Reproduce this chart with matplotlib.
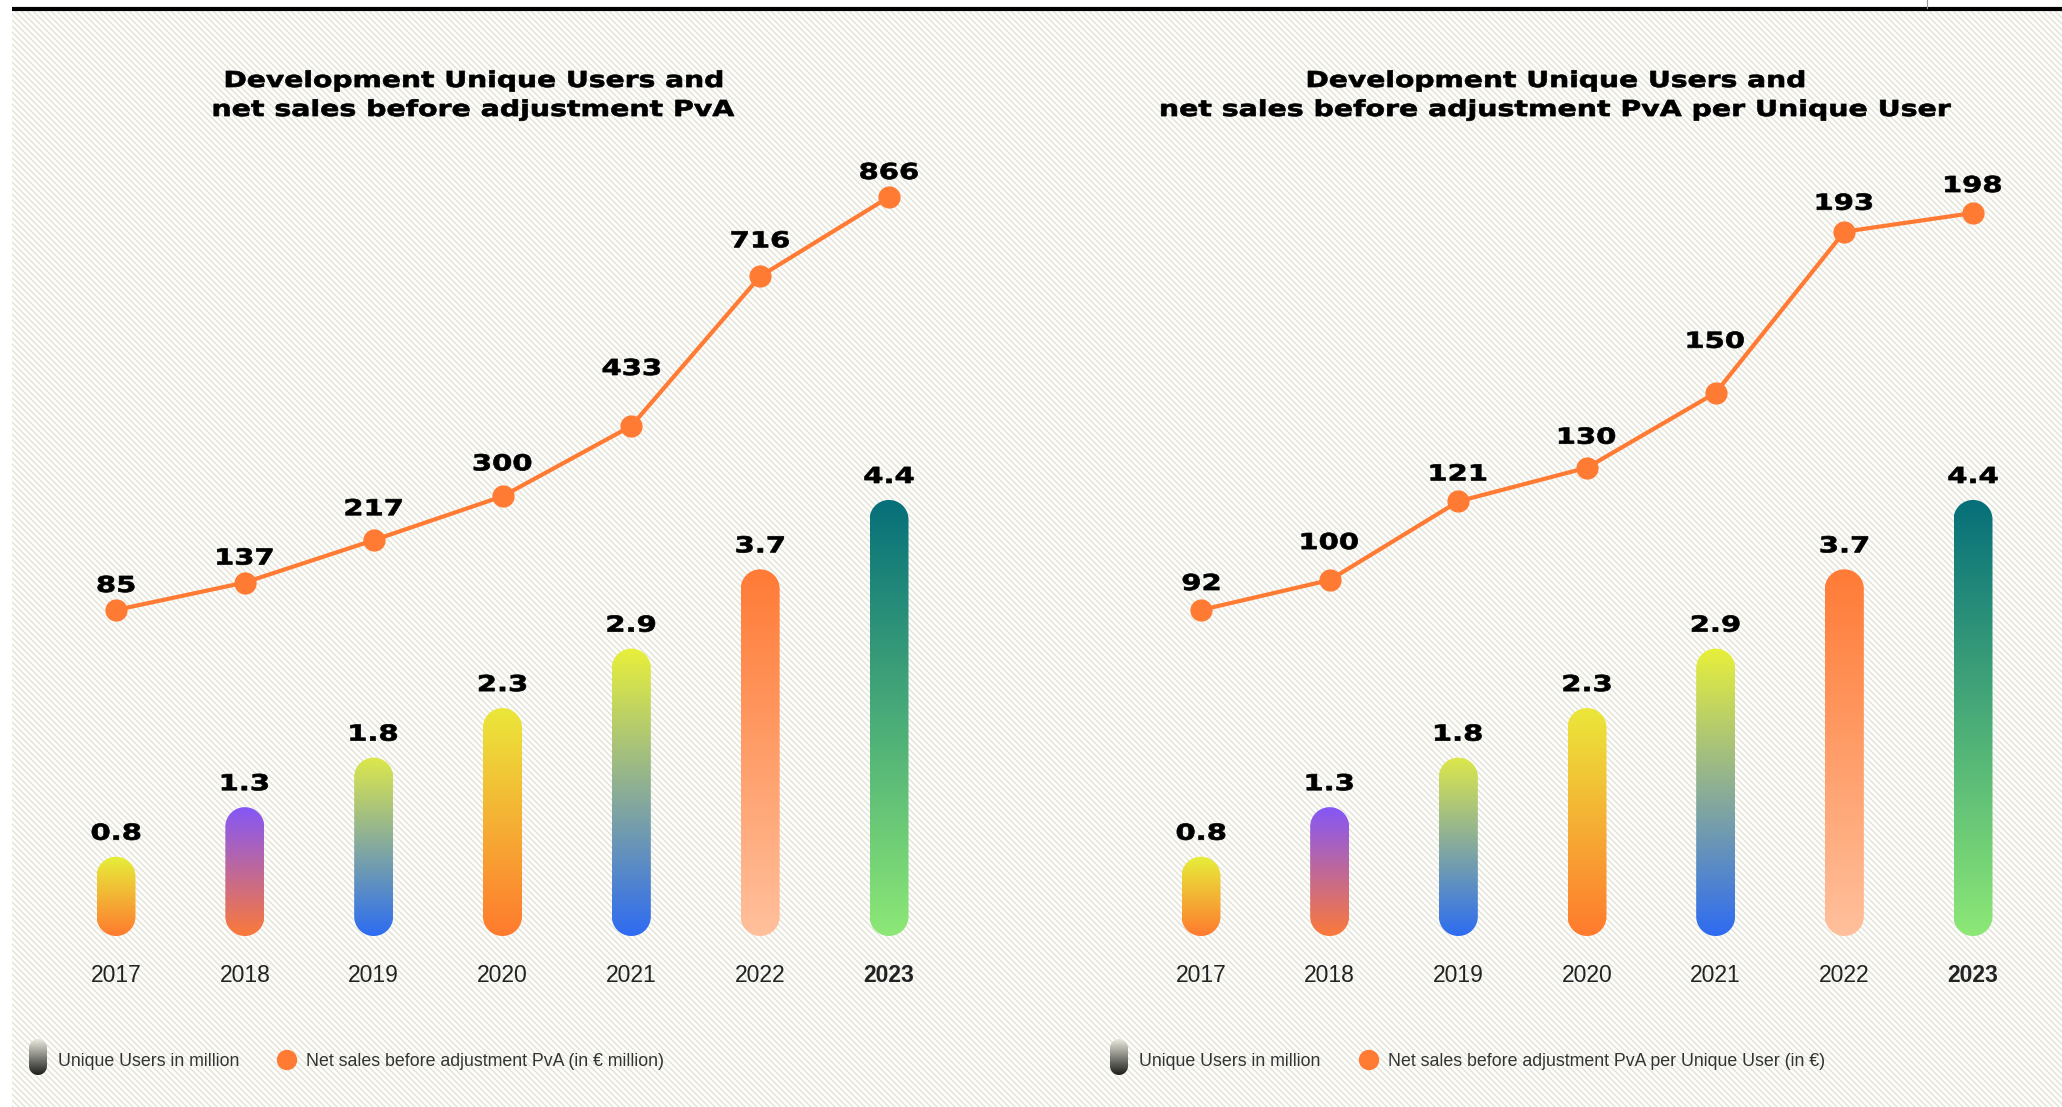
import numpy as np
import matplotlib.pyplot as plt
from matplotlib.colors import LinearSegmentedColormap
from matplotlib.patches import Polygon, Rectangle, Circle, PathPatch
from matplotlib.collections import LineCollection
from matplotlib.textpath import TextPath
from matplotlib.font_manager import FontProperties
from matplotlib.transforms import Affine2D

# data
years = ['2017', '2018', '2019', '2020', '2021', '2022', '2023']
users = [0.8, 1.3, 1.8, 2.3, 2.9, 3.7, 4.4]
user_labels = ['0.8', '1.3', '1.8', '2.3', '2.9', '3.7', '4.4']
net_sales = [85, 137, 217, 300, 433, 716, 866]
sales_per_user = [92, 100, 121, 130, 150, 193, 198]

titles = [['Development Unique Users and', 'net sales before adjustment PvA'],
          ['Development Unique Users and', 'net sales before adjustment PvA per Unique User']]
legend_users = 'Unique Users in million'
legend_sales = ['Net sales before adjustment PvA (in € million)',
                'Net sales before adjustment PvA per Unique User (in €)']

# gradient colours of the bars, top -> bottom
bar_top = ['#e6ef3a', '#8457f7', '#dde84a', '#ebe73a', '#e8f03a', '#ff7b36', '#066f7a']
bar_bottom = ['#ff7a2f', '#fb7a3a', '#2c6cf2', '#ff7a2e', '#2e6bf2', '#ffc09c', '#8de876']
line_color = '#ff7b33'

# how far (px) each line label sits above its point
lift_left = [26, 26, 33, 34, 59, 37, 26]
lift_right = [28, 39, 29, 32, 53, 30, 29]

W, H = 2062, 1107
fig = plt.figure(figsize=(W / 100, H / 100), dpi=100)
fig.patch.set_facecolor('white')

# background with fine diagonal stripes, pixel coordinates (y down)
bg = fig.add_axes([0, 0, 1, 1])
bg.set_xlim(0, W)
bg.set_ylim(H, 0)
bg.axis('off')
area = Rectangle((12, 11), W - 12, H - 11, facecolor='white', edgecolor='none')
bg.add_patch(area)
segs = [[(x0, 11), (x0 + H, 11 + H)] for x0 in np.arange(12 - H, W, 6.0)]
stripes = LineCollection(segs, colors='#e4e4d6', linewidths=1.1)
bg.add_collection(stripes)
stripes.set_clip_path(area)
bg.plot([12, W], [9, 9], color='black', lw=3, solid_capstyle='butt')
bg.plot([1927, 1927], [0, 8], color='#999999', lw=0.8)

bold_fp = FontProperties(family='DejaVu Sans', weight='bold')


def wide_text(s, cx, cy, em, sx):
    # bold text stretched horizontally, centred at pixel (cx, cy)
    tp = TextPath((0, 0), s, size=em, prop=bold_fp)
    ext = tp.get_extents()
    tr = Affine2D().scale(sx, -1).translate(cx - sx * (ext.x0 + ext.x1) / 2,
                                            cy + 0.729 * em / 2)
    bg.add_patch(PathPatch(tr.transform_path(tp), facecolor='black',
                           edgecolor='black', linewidth=0.5, zorder=5))


def to_px(ax, x, y):
    px, py = ax.transData.transform((x, y))
    return px, H - py


def gradient_pill(ax, xc, y0, y1, rx, ry, c_top, c_bottom):
    t = np.linspace(0, np.pi, 60)
    top = np.column_stack([xc + rx * np.cos(t), y1 - ry + ry * np.sin(t)])
    bot = np.column_stack([xc + rx * np.cos(t + np.pi), y0 + ry + ry * np.sin(t + np.pi)])
    if y1 < y0:  # inverted axis
        top = np.column_stack([xc + rx * np.cos(t), y1 + ry - ry * np.sin(t)])
        bot = np.column_stack([xc + rx * np.cos(t + np.pi), y0 - ry - ry * np.sin(t + np.pi)])
    poly = Polygon(np.vstack([top, bot]), closed=True, facecolor='none', edgecolor='none')
    ax.add_patch(poly)
    cmap = LinearSegmentedColormap.from_list('g', [c_top, c_bottom])
    grad = np.linspace(0, 1, 256).reshape(-1, 1)
    lo, hi = min(y0, y1), max(y0, y1)
    im = ax.imshow(grad, extent=[xc - rx, xc + rx, lo, hi], cmap=cmap,
                   aspect='auto', interpolation='bilinear', zorder=2,
                   origin='upper' if y1 > y0 else 'lower')
    im.set_clip_path(poly)


def panel(k, left, right, x_first, x_last, line_vals, y_first, y_last, lifts, title_cx):
    bottom_px, top_px = 1000, 120
    pos = [left / W, (H - bottom_px) / H, (right - left) / W, (bottom_px - top_px) / H]
    step = (x_last - x_first) / 6.0
    xlim = (-(x_first - left) / step, 6 + (right - x_last) / step)

    # bars
    ax = fig.add_axes(pos)
    ax.patch.set_alpha(0)
    ax.axis('off')
    base, ppu = 936, 99.1
    ax.set_xlim(*xlim)
    ax.set_ylim(-(bottom_px - base) / ppu, (base - top_px) / ppu)
    for i, v in enumerate(users):
        gradient_pill(ax, i, 0, v, 19.5 / step, 19.5 / ppu, bar_top[i], bar_bottom[i])
        ax.text(i, -(976 - base) / ppu, years[i], ha='center', va='center',
                family='Liberation Sans', fontsize=16.5, color='#222222',
                weight='bold' if i == 6 else 'normal')
    ax.set_xlim(*xlim)
    ax.set_ylim(-(bottom_px - base) / ppu, (base - top_px) / ppu)
    for i, v in enumerate(users):
        px, py = to_px(ax, i, v)
        wide_text(user_labels[i], px, py - 25, 22, 1.32)

    # line
    ax2 = fig.add_axes(pos)
    ax2.patch.set_alpha(0)
    ax2.axis('off')
    lpp = (y_first - y_last) / (line_vals[-1] - line_vals[0])
    zero_px = y_first + line_vals[0] * lpp
    ax2.plot(range(7), line_vals, color=line_color, lw=3, marker='o', ms=15,
             solid_capstyle='round', zorder=3)
    ax2.set_xlim(*xlim)
    ax2.set_ylim(-(bottom_px - zero_px) / lpp, (zero_px - top_px) / lpp)
    for i, v in enumerate(line_vals):
        px, py = to_px(ax2, i, v)
        wide_text(str(v), px, py - lifts[i], 22, 1.32)

    # title
    wide_text(titles[k][0], title_cx, 79, 22, 1.28)
    wide_text(titles[k][1], title_cx, 108, 22, 1.29)


panel(0, 30, 975, 116, 889, net_sales, 610, 197, lift_left, 474)
panel(1, 1115, 2059, 1201, 1973, sales_per_user, 610, 213, lift_right, 1556)

# legends
for lx, cx, label in [(38, 287, legend_sales[0]), (1119, 1369, legend_sales[1])]:
    gradient_pill(bg, lx, 1075, 1039, 9, 9, '#e9e9de', '#1c1c1a')
    bg.text(lx + 20, 1061, legend_users, va='center', ha='left',
            family='Liberation Sans', fontsize=12.8, color='#333333')
    bg.add_patch(Circle((cx, 1060), 9.5, color=line_color, zorder=3))
    bg.text(cx + 19, 1061, label, va='center', ha='left',
            family='Liberation Sans', fontsize=12.8, color='#333333')
bg.set_xlim(0, W)
bg.set_ylim(H, 0)

fig.savefig('out.png', dpi=100, facecolor='white')
